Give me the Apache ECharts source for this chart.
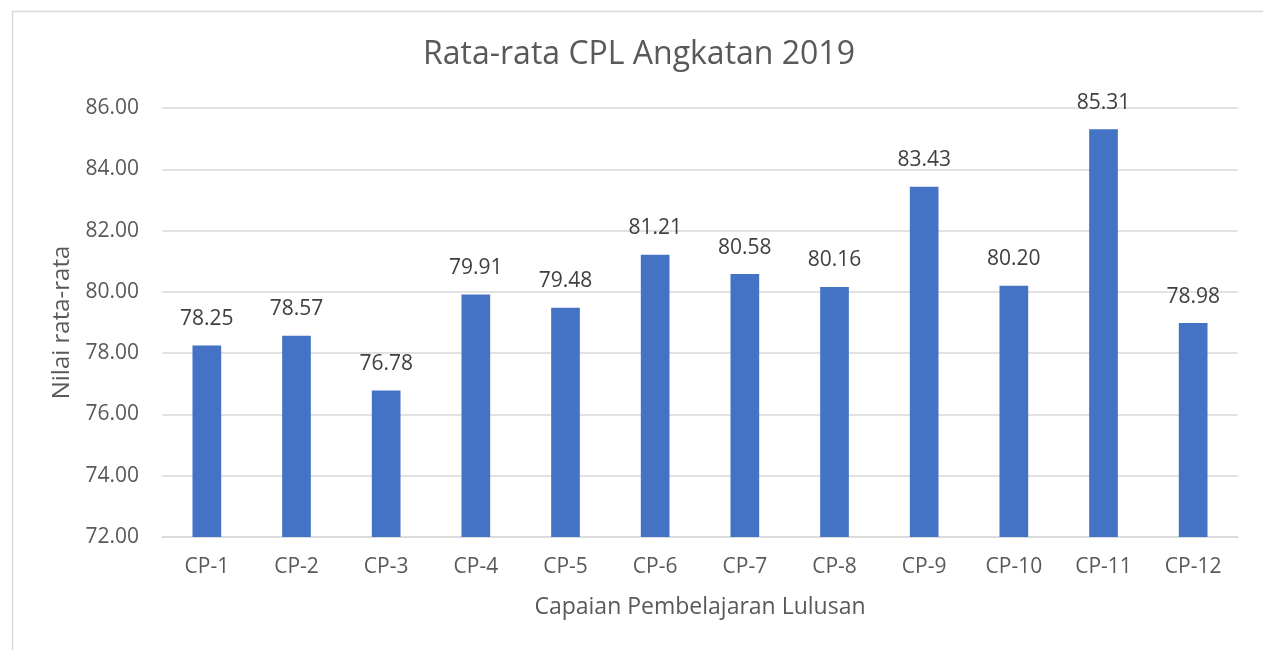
<!DOCTYPE html>
<html><head><meta charset="utf-8">
<script src="https://cdn.jsdelivr.net/npm/echarts@6/dist/echarts.min.js"></script>
<style>html,body{margin:0;padding:0;background:#fff}#c{width:1263px;height:650px}</style>
</head><body><div id="c"></div>
<script>
const categories = ['CP-1','CP-2','CP-3','CP-4','CP-5','CP-6','CP-7','CP-8','CP-9','CP-10','CP-11','CP-12'];
const values = [78.25,78.57,76.78,79.91,79.48,81.21,80.58,80.16,83.43,80.20,85.31,78.98];
const titleText = 'Rata-rata CPL Angkatan 2019';
const xName = 'Capaian Pembelajaran Lulusan';
const yName = 'Nilai rata-rata';
const yMin = 72, yMax = 86, yStep = 2;

const font = '"Open Sans", sans-serif';
const chart = echarts.init(document.getElementById('c'));
chart.setOption({
  animation: false,
  graphic: [{type:'rect', left:10, top:9, shape:{width:1300,height:700}, style:{fill:'none', stroke:'#d9d9d9', lineWidth:1.5}, silent:true}],
  title: {text: titleText, left: 418, top: 34, textStyle:{fontFamily:font, fontSize:32, fontWeight:'normal', color:'#595959'}},
  grid: {left:162, right:25, top:108, bottom:113, containLabel:false},
  xAxis: {type:'category', data: categories, name: xName, nameLocation:'middle', nameGap:59,
    nameTextStyle:{fontFamily:font, fontSize:23, color:'#595959'},
    axisLine:{lineStyle:{color:'#d9d9d9', width:1.5}}, axisTick:{show:false},
    axisLabel:{fontFamily:font, fontSize:21, color:'#595959', margin:20}},
  yAxis: {type:'value', min:yMin, max:yMax, interval:yStep, name: yName, nameLocation:'middle', nameGap:86,
    nameTextStyle:{fontFamily:font, fontSize:24, color:'#595959'},
    axisLine:{show:false}, axisTick:{show:false},
    splitLine:{lineStyle:{color:'#d9d9d9', width:1.5}},
    axisLabel:{fontFamily:font, fontSize:21, color:'#595959', margin:23, formatter:v=>v.toFixed(2)}},
  series: [{type:'bar', data: values, barWidth:'32%', itemStyle:{color:'#4472C4'},
    label:{show:true, position:'top', distance:16, fontFamily:font, fontSize:21, color:'#404040', formatter:p=>p.value.toFixed(2)}}]
});
</script></body></html>
